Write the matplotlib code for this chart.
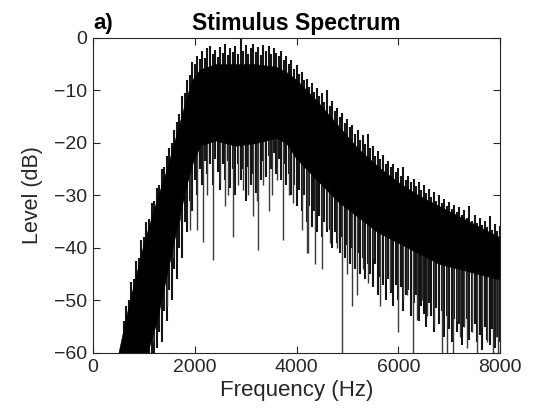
import numpy as np
import matplotlib
matplotlib.use("Agg")
import matplotlib.pyplot as plt

plt.rcParams["font.family"] = ["Liberation Sans", "DejaVu Sans"]

# solid core of the spectrum (dB)
freq_env = [430, 500, 700, 900, 1000, 1250, 1450, 1650, 1850, 1950, 2100, 2400, 2800,
            3200, 3600, 3800, 4000, 4400, 4800, 5200, 5600, 6000, 6400, 6800, 7200, 7600, 8000]
top_db = [-62, -60, -51, -43, -39, -31, -25, -18, -11, -8, -6, -5, -5,
          -5, -5.5, -6.5, -8, -12, -16.5, -21, -24.5, -27.5, -30, -32, -34, -36, -38]
low_db = [-62, -65, -65, -65, -62, -54, -45, -36, -27.5, -24, -20.5, -19.5, -20.5,
          -20, -19, -20, -23, -27, -31, -34, -37, -39, -41, -43, -44, -45, -46]

# upper fringe: peak tips every 50 Hz from 600 Hz
up_f = list(range(600, 8001, 50))
up_db = [-54, -51, -50, -46.5, -46, -42.5, -42, -38.5, -38, -35, -34.5, -31.5, -31, -28.5, -28, -25, -24.5, -22.5,
         -21, -20, -17.5, -16, -14.5, -11, -10.5, -8, -7, -4.5,
         -5, -3.5, -4, -2.5, -3.8, -2, -1.5, -3, -2.2, -3.6,
         -1.8, -2.8, -1.2, -3.2, -2, -2.6, -1.6, -3, 0, -2.4,
         -1.4, -3.1, -2, -1.1, -2.7, -1.8, -3.3, -1.3, -2.5, -1.6,
         -3, -1.9, -2.8, -3.5, -2.5, -4.2, -3.4, -5, -4.2, -6,
         -5.2, -6.8, -6.5, -8, -7.8, -9.3, -8.5, -10.2, -9.6, -11,
         -10.5, -12.2, -10, -13, -12, -14, -13.3, -15, -14.3, -16.2,
         -15.5, -17, -16.5, -18.3, -17.6, -19.5, -18.5, -20.2, -18.2, -21,
         -20.6, -22.4, -21.5, -23, -22.2, -24, -23.4, -24.6, -24, -25.5,
         -24.8, -26.2, -24.5, -27, -26.3, -27.5, -26.8, -28.2, -27.5, -29,
         -28, -29.6, -28.8, -30.3, -29.4, -31, -30, -31.5, -30.6, -32,
         -31.2, -32.6, -31.8, -33.2, -32.2, -33.8, -32.8, -34.2, -32, -34.8,
         -33.8, -35.3, -34.2, -35.6, -34.8, -36, -34, -36.5, -35.4, -36.8,
         -35.8]

# lower fringe: dip tips every 50 Hz from 1100 Hz
dn_f = list(range(1100, 8001, 50))
dn_db = [-64, -62, -60, -59, -56, -58, -52, -54,
         -48, -50, -44, -46, -40, -42, -35, -37, -31, -33,
         -27, -30, -25, -28, -23.5, -26, -24, -28, -23, -25.5,
         -29, -24, -27, -23.5, -28.5, -25, -30, -24, -27, -25,
         -31, -24.5, -28, -26, -29.5, -24, -27, -23.5, -26.5, -22.5,
         -25, -22, -26, -23, -27, -24, -28, -26, -30, -28,
         -32, -29, -33, -30, -35, -32, -36, -33, -37, -34,
         -38, -35, -37, -36.5, -40, -37, -39, -41, -38, -42,
         -39.5, -43, -40, -44, -41, -45, -42, -46, -43, -45,
         -47.5, -43, -49, -45.5, -47, -50, -46, -48.5, -51, -47,
         -50, -47.5, -52, -49, -48, -53, -50.5, -49, -54, -51,
         -52.5, -55, -50.5, -53, -56, -51.5, -54.5, -52, -57, -53,
         -55.5, -58, -53.5, -56, -54.5, -58.5, -55, -53.5, -57.5, -56,
         -54.5, -58, -56.5, -59.5, -55, -57.5, -58.5, -55.5, -59, -57,
         -58]

# deep notches
notch_f = [1180, 1278, 1455, 1573, 1710, 1800, 1907, 2044, 2162, 2250, 2359, 2497, 2600, 2654,
           2752, 2850, 2949, 3050, 3150, 3224, 3244, 3350, 3450, 3519, 3620, 3735, 3850, 3932,
           4109, 4207, 4227, 4365, 4502, 4600, 4659, 4800, 4895, 5000, 5092, 5190, 5300, 5407,
           5500, 5642, 5750, 5839, 5996, 6100, 6173, 6283, 6370, 6470, 6567, 6700, 6861, 6960,
           7077, 7150, 7215, 7300, 7352, 7450, 7549, 7650, 7746, 7864, 7930, 7962]
notch_db = [-58, -51, -51, -42, -34.7, -30, -36.6, -36.6, -38.9, -30, -42.3, -27.6, -32, -30,
            -37.9, -28, -29, -30, -34, -31, -40.4, -28, -33, -30, -27, -38.5, -30, -31.5,
            -36.6, -41, -41, -43, -44, -36, -39, -40, -61, -45, -51, -49, -44, -46.7,
            -42, -51, -46, -48, -56, -50, -49, -61, -53.7, -50, -53, -55, -61, -61,
            -61, -54, -57, -55, -59, -56, -61, -55, -58, -61, -57, -61]

fig = plt.figure(figsize=(5.33, 4.13), dpi=100)
ax = fig.add_axes([0.1745, 0.1453, 0.7636, 0.7627])

ax.fill_between(freq_env, low_db, top_db, color="black", lw=0.5, zorder=3)
ax.vlines(up_f, np.interp(up_f, freq_env, top_db) - 2, up_db, color="#141414", lw=1.5, zorder=2)
ax.vlines(dn_f, np.interp(dn_f, freq_env, low_db) + 2, dn_db, color="#141414", lw=1.5, zorder=2)
ax.vlines(notch_f, np.interp(notch_f, freq_env, low_db) + 2, notch_db, color="#3a3a3a", lw=1.0, zorder=2)

ax.set_xlim(0, 8000)
ax.set_ylim(-60, 0)
ax.set_xticks([0, 2000, 4000, 6000, 8000])
ax.set_yticks([-60, -50, -40, -30, -20, -10, 0])
ax.tick_params(direction="in", top=True, right=True, length=5, width=0.8,
               labelsize=14, colors="#262626", pad=4)
for s in ax.spines.values():
    s.set_color("#262626")
    s.set_linewidth(0.8)
    s.set_zorder(5)

ax.set_xlabel("Frequency (Hz)", fontsize=16, color="#262626", labelpad=3)
ax.set_ylabel("Level (dB)", fontsize=15.5, color="#262626", labelpad=8)
ax.set_title("Stimulus Spectrum", fontsize=16.5, fontweight="bold", pad=6)
fig.text(0.176, 0.968, "a)", fontsize=16, fontweight="bold", va="top", ha="left")

fig.savefig("out.png", dpi=100)
